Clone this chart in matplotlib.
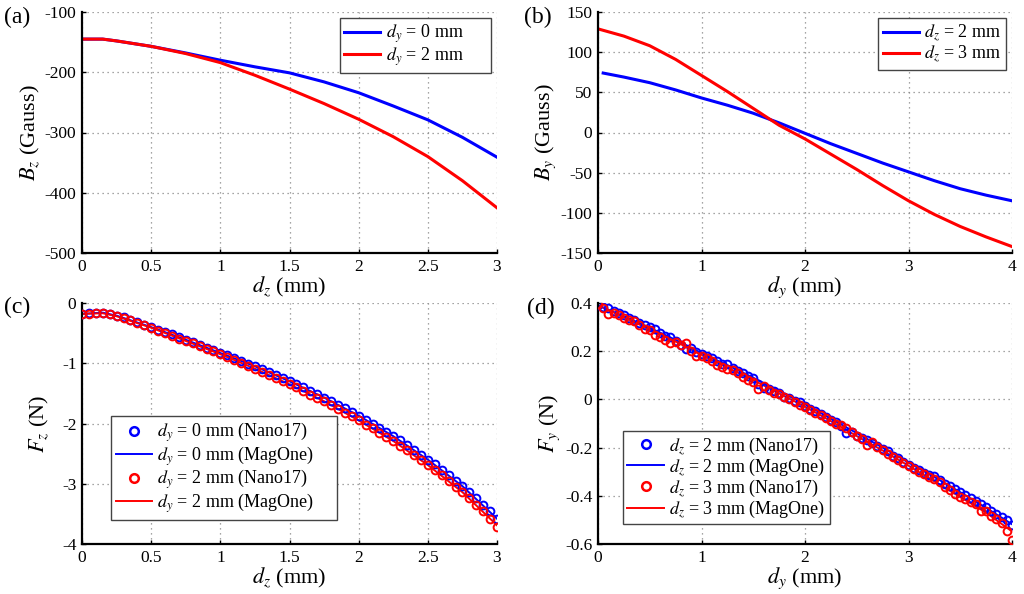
import numpy as np
import matplotlib
matplotlib.use("Agg")
import matplotlib.pyplot as plt
import matplotlib.ticker as mticker
from matplotlib.lines import Line2D

plt.rcParams['font.family'] = ['Liberation Serif', 'DejaVu Serif']
plt.rcParams['mathtext.fontset'] = 'stix'
plt.rcParams['axes.unicode_minus'] = False

# ---------------- data ----------------
# (a) Bz vs dz
dz_a = [0, 0.15, 0.25, 0.5, 0.75, 1.0, 1.25, 1.5, 1.75, 2.0, 2.25, 2.5, 2.75, 3.0]
bz_dy0 = [-145, -145, -148, -157, -168, -180, -191, -201, -216, -234, -256, -279, -308, -341]
bz_dy2 = [-145, -145, -148, -157, -169, -184, -205, -228, -252, -278, -307, -340, -380, -425]

# (b) By vs dy
dy_b = [0.05, 0.25, 0.5, 0.75, 1.0, 1.25, 1.5, 1.75, 2.0, 2.25, 2.5, 2.75, 3.0, 3.25, 3.5, 3.75, 4.0]
by_dz2 = [74, 69, 62, 53, 43, 34, 24, 12, -1, -14, -26, -38, -49, -60, -70, -78, -85]
dy_b3 = [0.0, 0.25, 0.5, 0.75, 1.0, 1.25, 1.5, 1.75, 2.0, 2.25, 2.5, 2.75, 3.0, 3.25, 3.5, 3.75, 4.0]
by_dz3 = [129, 120, 108, 91, 71, 51, 30, 9, -8, -27, -46, -66, -85, -102, -117, -130, -142]

# (c) Fz vs dz (Nano17 measurements every 0.05 mm)
dz_c = [0.00, 0.05, 0.10, 0.15, 0.20, 0.25, 0.30, 0.35, 0.40, 0.45,
        0.50, 0.55, 0.60, 0.65, 0.70, 0.75, 0.80, 0.85, 0.90, 0.95,
        1.00, 1.05, 1.10, 1.15, 1.20, 1.25, 1.30, 1.35, 1.40, 1.45,
        1.50, 1.55, 1.60, 1.65, 1.70, 1.75, 1.80, 1.85, 1.90, 1.95,
        2.00, 2.05, 2.10, 2.15, 2.20, 2.25, 2.30, 2.35, 2.40, 2.45,
        2.50, 2.55, 2.60, 2.65, 2.70, 2.75, 2.80, 2.85, 2.90, 2.95, 3.00]
fz_dy0_nano = [-0.18, -0.17, -0.16, -0.16, -0.18, -0.21, -0.24, -0.28, -0.32, -0.36,
               -0.40, -0.44, -0.48, -0.52, -0.57, -0.61, -0.65, -0.69, -0.74, -0.78,
               -0.83, -0.87, -0.92, -0.96, -1.01, -1.05, -1.10, -1.15, -1.20, -1.25,
               -1.30, -1.35, -1.40, -1.46, -1.51, -1.57, -1.63, -1.69, -1.75, -1.81,
               -1.87, -1.94, -2.00, -2.07, -2.14, -2.21, -2.28, -2.36, -2.44, -2.52,
               -2.60, -2.68, -2.77, -2.86, -2.95, -3.04, -3.14, -3.24, -3.35, -3.46, -3.58]
fz_dy2_nano = [-0.18, -0.18, -0.17, -0.17, -0.19, -0.22, -0.25, -0.29, -0.33, -0.37,
               -0.41, -0.46, -0.50, -0.54, -0.59, -0.63, -0.67, -0.71, -0.76, -0.80,
               -0.85, -0.90, -0.95, -0.99, -1.04, -1.09, -1.14, -1.19, -1.24, -1.29,
               -1.35, -1.40, -1.46, -1.52, -1.57, -1.63, -1.69, -1.76, -1.82, -1.88,
               -1.95, -2.02, -2.08, -2.15, -2.22, -2.29, -2.37, -2.44, -2.52, -2.60,
               -2.69, -2.77, -2.86, -2.95, -3.05, -3.14, -3.24, -3.35, -3.46, -3.58, -3.71]
dz_line = [0.0, 0.15, 0.25, 0.5, 0.75, 1.0, 1.25, 1.5, 1.75, 2.0, 2.25, 2.5, 2.75, 3.0]
fz_dy0_mag = [-0.18, -0.16, -0.21, -0.40, -0.61, -0.83, -1.05, -1.30, -1.57, -1.87, -2.21, -2.60, -3.04, -3.58]
fz_dy2_mag = [-0.18, -0.17, -0.22, -0.41, -0.63, -0.85, -1.09, -1.35, -1.63, -1.95, -2.29, -2.69, -3.14, -3.69]

# (d) Fy vs dy (Nano17 measurements every 0.05 mm)
dy_d = [round(0.05 * i, 2) for i in range(81)]
fy_dz2_nano = [0.390, 0.385, 0.380, 0.368, 0.358, 0.350, 0.338, 0.328, 0.318, 0.310,
               0.302, 0.292, 0.275, 0.262, 0.258, 0.242, 0.225, 0.210, 0.212, 0.198,
               0.188, 0.180, 0.170, 0.158, 0.148, 0.145, 0.130, 0.118, 0.110, 0.098,
               0.088, 0.062, 0.048, 0.045, 0.035, 0.025, 0.012, 0.005, -0.005, -0.012,
               -0.028, -0.040, -0.050, -0.060, -0.072, -0.085, -0.095, -0.110, -0.140, -0.135,
               -0.150, -0.162, -0.170, -0.182, -0.195, -0.205, -0.215, -0.235, -0.245, -0.258,
               -0.272, -0.285, -0.292, -0.305, -0.315, -0.318, -0.335, -0.350, -0.360, -0.372,
               -0.385, -0.398, -0.410, -0.422, -0.435, -0.448, -0.462, -0.475, -0.488, -0.502,
               -0.522]
fy_dz3_nano = [0.395, 0.378, 0.355, 0.360, 0.350, 0.338, 0.330, 0.325, 0.310, 0.292,
               0.288, 0.268, 0.258, 0.245, 0.235, 0.240, 0.225, 0.232, 0.200, 0.180,
               0.182, 0.170, 0.158, 0.142, 0.135, 0.128, 0.120, 0.108, 0.095, 0.082,
               0.072, 0.042, 0.055, 0.040, 0.028, 0.022, 0.010, 0.000, -0.012, -0.022,
               -0.030, -0.042, -0.055, -0.065, -0.078, -0.090, -0.100, -0.108, -0.118, -0.135,
               -0.150, -0.165, -0.188, -0.178, -0.198, -0.212, -0.225, -0.240, -0.250, -0.262,
               -0.278, -0.290, -0.300, -0.310, -0.322, -0.332, -0.342, -0.362, -0.378, -0.392,
               -0.405, -0.412, -0.425, -0.432, -0.462, -0.465, -0.482, -0.495, -0.512, -0.545,
               -0.585]
dy_line = [0.0, 0.25, 0.5, 0.75, 1.0, 1.25, 1.5, 1.75, 2.0, 2.25, 2.5, 2.75, 3.0, 3.25, 3.5, 3.75, 4.0]
fy_dz2_mag = [0.39, 0.345, 0.297, 0.247, 0.192, 0.142, 0.09, 0.035, -0.02, -0.08, -0.14, -0.20, -0.262, -0.322, -0.385, -0.45, -0.518]
fy_dz3_mag = [0.39, 0.342, 0.290, 0.240, 0.185, 0.132, 0.08, 0.025, -0.03, -0.09, -0.152, -0.212, -0.275, -0.34, -0.405, -0.47, -0.548]

# ---------------- figure ----------------
W, H = 1024, 594
fig = plt.figure(figsize=(W / 100, H / 100), dpi=100)

def ax_at(l, t, r, b):
    return fig.add_axes([l / W, 1 - b / H, (r - l) / W, (b - t) / H])

axa = ax_at(82, 12, 497, 253)
axb = ax_at(598, 12, 1012, 253)
axc = ax_at(82, 303, 497, 544)
axd = ax_at(598, 303, 1012, 544)

BLUE = '#0000ff'
RED = '#ff0000'
TICK_FS = 12.5
LAB_FS = 16
LEG_FS = 13

def style(ax):
    for s in ['top', 'right']:
        ax.spines[s].set_visible(False)
    for s in ['left', 'bottom']:
        ax.spines[s].set_linewidth(1.6)
    ax.grid(True, linestyle=(0, (1, 3)), color='#888888', linewidth=0.9)
    ax.set_axisbelow(True)
    ax.tick_params(direction='in', length=3, width=1.0, labelsize=TICK_FS, pad=4)

fmt = mticker.FuncFormatter(lambda v, p: '%g' % v)

lw = 2.2
axa.plot(dz_a, bz_dy0, color=BLUE, lw=lw)
axa.plot(dz_a, bz_dy2, color=RED, lw=lw)
axa.set_xlim(0, 3); axa.set_ylim(-500, -100)
axa.set_xticks([0, 0.5, 1, 1.5, 2, 2.5, 3])
axa.set_yticks([-500, -400, -300, -200, -100])
axa.set_xlabel('$d_z$ (mm)', fontsize=LAB_FS, labelpad=0)
axa.set_ylabel('$B_z$ (Gauss)', fontsize=LAB_FS, labelpad=2)

axb.plot(dy_b, by_dz2, color=BLUE, lw=lw)
axb.plot(dy_b3, by_dz3, color=RED, lw=lw)
axb.set_xlim(0, 4); axb.set_ylim(-150, 150)
axb.set_xticks([0, 1, 2, 3, 4])
axb.set_yticks([-150, -100, -50, 0, 50, 100, 150])
axb.set_xlabel('$d_y$ (mm)', fontsize=LAB_FS, labelpad=0)
axb.set_ylabel('$B_y$ (Gauss)', fontsize=LAB_FS, labelpad=2)

ms = 5.6
mew = 1.4
axc.plot(dz_line, fz_dy0_mag, color=BLUE, lw=1.4, zorder=2)
axc.plot(dz_line, fz_dy2_mag, color=RED, lw=1.4, zorder=2)
axc.plot(dz_c, fz_dy0_nano, 'o', mfc='none', mec=BLUE, ms=ms, mew=mew, zorder=3)
axc.plot(dz_c, fz_dy2_nano, 'o', mfc='none', mec=RED, ms=ms, mew=mew, zorder=4)
axc.set_xlim(0, 3); axc.set_ylim(-4, 0)
axc.set_xticks([0, 0.5, 1, 1.5, 2, 2.5, 3])
axc.set_yticks([-4, -3, -2, -1, 0])
axc.set_xlabel('$d_z$ (mm)', fontsize=LAB_FS, labelpad=0)
axc.set_ylabel('$F_z$ (N)', fontsize=LAB_FS, labelpad=8)

axd.plot(dy_line, fy_dz2_mag, color=BLUE, lw=1.4, zorder=2)
axd.plot(dy_line, fy_dz3_mag, color=RED, lw=1.4, zorder=2)
axd.plot(dy_d, fy_dz2_nano, 'o', mfc='none', mec=BLUE, ms=ms, mew=mew, zorder=3)
axd.plot(dy_d, fy_dz3_nano, 'o', mfc='none', mec=RED, ms=ms, mew=mew, zorder=4)
axd.set_xlim(0, 4); axd.set_ylim(-0.6, 0.4)
axd.set_xticks([0, 1, 2, 3, 4])
axd.set_yticks([-0.6, -0.4, -0.2, 0, 0.2, 0.4])
axd.set_xlabel('$d_y$ (mm)', fontsize=LAB_FS, labelpad=0)
axd.set_ylabel('$F_y$ (N)', fontsize=LAB_FS, labelpad=2)

for ax in (axa, axb, axc, axd):
    style(ax)
    ax.xaxis.set_major_formatter(fmt)
    ax.yaxis.set_major_formatter(fmt)

def legend(ax, handles, labels, **kw):
    leg = ax.legend(handles, labels, fontsize=LEG_FS, frameon=True, fancybox=False,
                    edgecolor='#444444', framealpha=1, borderpad=0.25, labelspacing=0.0,
                    handlelength=2.0, handletextpad=0.3, borderaxespad=0.35, **kw)
    leg.get_frame().set_linewidth(1.0)
    return leg

PADA = '      '
PADC = '     '
legend(axa, axa.get_lines(), ['$d_y$ = 0 mm' + PADA, '$d_y$ = 2 mm' + PADA], loc='upper right')
legend(axb, axb.get_lines(), ['$d_z$ = 2 mm', '$d_z$ = 3 mm'], loc='upper right')

def four_handles():
    return [Line2D([], [], ls='none', marker='o', mfc='none', mec=BLUE, ms=ms + 0.6, mew=mew + 0.4),
            Line2D([], [], color=BLUE, lw=1.4),
            Line2D([], [], ls='none', marker='o', mfc='none', mec=RED, ms=ms + 0.6, mew=mew + 0.4),
            Line2D([], [], color=RED, lw=1.4)]

legend(axc, four_handles(),
       ['$d_y$ = 0 mm (Nano17)' + PADC, '$d_y$ = 0 mm (MagOne)' + PADC,
        '$d_y$ = 2 mm (Nano17)' + PADC, '$d_y$ = 2 mm (MagOne)' + PADC],
       loc='lower left', bbox_to_anchor=(0.055, 0.075))
legend(axd, four_handles(),
       ['$d_z$ = 2 mm (Nano17)', '$d_z$ = 2 mm (MagOne)',
        '$d_z$ = 3 mm (Nano17)', '$d_z$ = 3 mm (MagOne)'],
       loc='lower left', bbox_to_anchor=(0.045, 0.055))

PFS = 17
fig.text(4 / W, 1 - 17 / H, '(a)', fontsize=PFS, va='center', ha='left')
fig.text(524 / W, 1 - 17 / H, '(b)', fontsize=PFS, va='center', ha='left')
fig.text(4 / W, 1 - 307 / H, '(c)', fontsize=PFS, va='center', ha='left')
fig.text(527 / W, 1 - 308 / H, '(d)', fontsize=PFS, va='center', ha='left')

fig.savefig('out.png', dpi=100)
